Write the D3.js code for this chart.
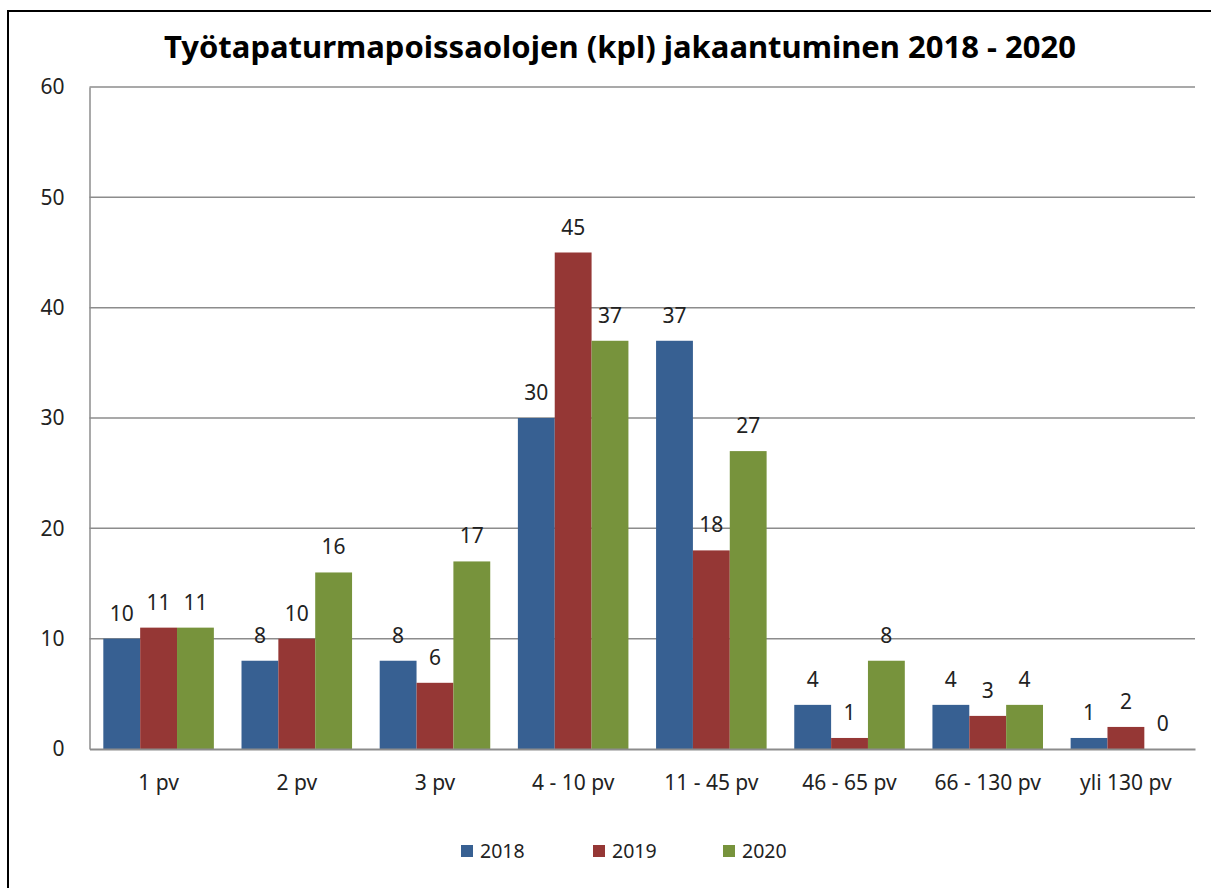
<!DOCTYPE html>
<html>
<head>
<meta charset="utf-8">
<script src="https://d3js.org/d3.v7.min.js"></script>
<style>
    body{margin:0;background:#fff;font-family:"Noto Sans",sans-serif;}
</style>
</head>
<body>
<div id="chart"></div>
<script>
    var categories = ["1 pv","2 pv","3 pv","4 - 10 pv","11 - 45 pv","46 - 65 pv","66 - 130 pv","yli 130 pv"]
    var years = ["2018","2019","2020"]
    var values2018 = [10,8,8,30,37,4,4,1]
    var values2019 = [11,10,6,45,18,1,3,2]
    var values2020 = [11,16,17,37,27,8,4,0]
    var yTicks = [0,10,20,30,40,50,60]
    var colors = ["#376092","#953735","#77933c"]
    var title = "Työtapaturmapoissaolojen (kpl) jakaantuminen 2018 - 2020"

    var series = [values2018,values2019,values2020]
    var W = 1211, H = 888
    var plotLeft = 89.5, plotRight = 1195, plotTop = 87, plotBottom = 749
    var labelSize = 21

    var svg = d3.select("#chart").append("svg")
        .attr("width",W).attr("height",H)

    // outer frame
    svg.append("rect")
        .attr("x",8).attr("y",11)
        .attr("width",W+20).attr("height",H+20)
        .attr("fill","none").attr("stroke","#000").attr("stroke-width",2)

    svg.append("text")
        .attr("x",620).attr("y",58)
        .attr("text-anchor","middle")
        .attr("font-size",31).attr("font-weight","bold")
        .attr("fill","#000")
        .text(title)

    var y = d3.scaleLinear().domain([0,60]).range([plotBottom,plotTop])
    var x = d3.scaleBand().domain(categories).range([plotLeft,plotRight])
        .paddingInner(0.2).paddingOuter(0.1)
    var xInner = d3.scaleBand().domain(years).range([0,x.bandwidth()])

    // gridlines
    svg.append("g")
        .selectAll("line")
        .data(yTicks.filter(function(d){return d>0}))
        .enter().append("line")
        .attr("x1",plotLeft).attr("x2",plotRight)
        .attr("y1",function(d){return y(d)}).attr("y2",function(d){return y(d)})
        .attr("stroke","#8c8c8c").attr("stroke-width",1.5)

    // y axis
    var yAxis = svg.append("g")
        .attr("transform","translate("+plotLeft+",0)")
        .call(d3.axisLeft(y).tickValues(yTicks).tickSize(0).tickPadding(25))
    yAxis.select(".domain").attr("stroke","#8c8c8c").attr("stroke-width",1.5)
    yAxis.selectAll("text").attr("font-size",labelSize).attr("fill","#222")
        .attr("font-family","Noto Sans")

    // bars
    years.forEach(function(yr,k){
        var g = svg.append("g")
        g.selectAll("rect")
            .data(series[k])
            .enter().append("rect")
            .attr("x",function(d,i){return x(categories[i])+xInner(yr)})
            .attr("y",function(d){return y(d)})
            .attr("width",xInner.bandwidth())
            .attr("height",function(d){return plotBottom-y(d)})
            .attr("fill",colors[k])
        g.selectAll("text")
            .data(series[k])
            .enter().append("text")
            .attr("x",function(d,i){return x(categories[i])+xInner(yr)+xInner.bandwidth()/2})
            .attr("y",function(d){return y(d)-18})
            .attr("text-anchor","middle")
            .attr("font-size",labelSize).attr("fill","#222")
            .text(function(d){return d})
    })

    // x axis
    var xAxis = svg.append("g")
        .attr("transform","translate(0,"+plotBottom+")")
        .call(d3.axisBottom(x).tickSize(0).tickPadding(26))
    xAxis.select(".domain").attr("stroke","#8c8c8c").attr("stroke-width",2)
    xAxis.selectAll("text").attr("font-size",labelSize).attr("fill","#222")
        .attr("font-family","Noto Sans")

    // legend
    var legendX = [461,593,723]
    var legend = svg.append("g").selectAll("g")
        .data(years).enter().append("g")
        .attr("transform",function(d,i){return "translate("+legendX[i]+",845)"})
    legend.append("rect")
        .attr("width",12).attr("height",12)
        .attr("fill",function(d,i){return colors[i]})
    legend.append("text")
        .attr("x",19).attr("y",13)
        .attr("font-size",19.5).attr("fill","#222")
        .text(function(d){return d})
</script>
</body>
</html>
